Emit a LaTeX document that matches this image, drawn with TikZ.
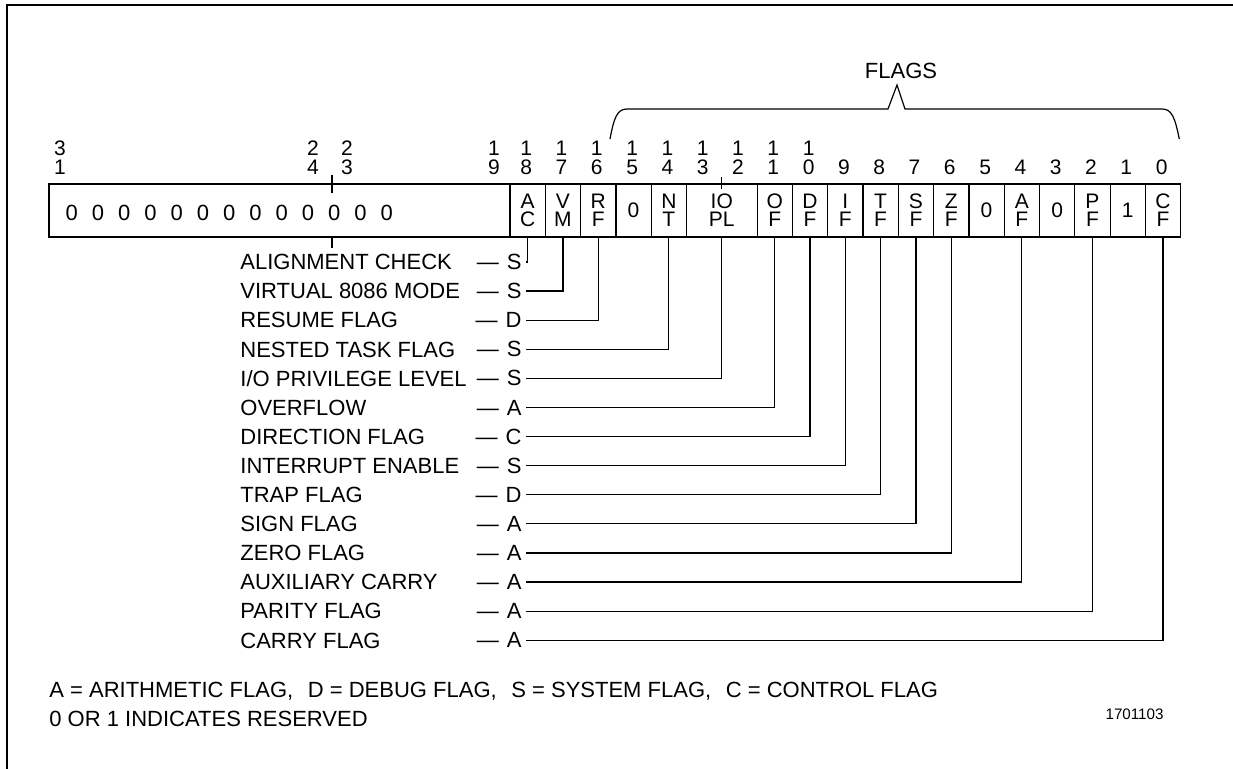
\documentclass[tikz,border=0pt]{standalone}
\usepackage{fontspec}
\setmainfont{Liberation Sans}
\usetikzlibrary{positioning}

\newcommand\lblfont{\fontsize{11}{13}\selectfont}
\newcommand\numfont{\fontsize{10.5}{12}\selectfont}
\newcommand\cellfont{\fontsize{10.5}{9}\selectfont}

\begin{document}
\begin{tikzpicture}[
    x=0.5pt, y=-0.5pt,
    cell/.style={draw, line width=0.6pt, minimum width=17.65pt, minimum height=26.5pt, inner sep=0pt, outer sep=0pt, align=center, font=\cellfont},
    digit/.style={inner sep=0pt, font=\lblfont},
    bitno/.style={anchor=base, inner sep=0pt, font=\numfont},
    flagname/.style={anchor=base west, inner sep=0pt, font=\lblfont},
    kind/.style={anchor=east, inner xsep=2pt, inner ysep=0pt, font=\lblfont},
    conn/.style={line width=0.6pt}
]
\useasboundingbox (0,0) rectangle (1233,769);

% frame
\draw[line width=1.4pt] (7,769) -- (7,5) -- (1233,5);

% register
\node (res) [cell, anchor=north west, minimum width=230.5pt] at (49,184) {};
\node (ac) [cell, right=0pt of res] {A\\C};
\node (vm) [cell, right=0pt of ac] {V\\M};
\node (rf) [cell, right=0pt of vm] {R\\F};
\node (r15) [cell, right=0pt of rf] {0};
\node (nt) [cell, right=0pt of r15] {N\\T};
\node (iopl) [cell, right=0pt of nt, minimum width=35.3pt] {IO\\PL};
\node (of) [cell, right=0pt of iopl] {O\\F};
\node (df) [cell, right=0pt of of] {D\\F};
\node (if) [cell, right=0pt of df] {I\\F};
\node (tf) [cell, right=0pt of if] {T\\F};
\node (sf) [cell, right=0pt of tf] {S\\F};
\node (zf) [cell, right=0pt of sf] {Z\\F};
\node (r5) [cell, right=0pt of zf] {0};
\node (af) [cell, right=0pt of r5] {A\\F};
\node (r3) [cell, right=0pt of af] {0};
\node (pf) [cell, right=0pt of r3] {P\\F};
\node (r1) [cell, right=0pt of pf] {1};
\node (cf) [cell, right=0pt of r1] {C\\F};

% reserved zeros and ticks
\foreach \i in {0,...,12}
  \node (z\i) [digit] at (71.7+26.25*\i,212.5) {0};
\draw[conn] (332,175) -- (332,193);
\draw[conn] (332,237) -- (332,248);
\draw[conn] ([yshift=3.5pt]iopl.north) -- ([yshift=-2.5pt]iopl.north);

% bit numbers
\foreach \x/\hi/\lo in {60/3/1, 313/2/4, 347/2/3, 494/1/9, 526.2/1/8, 561.5/1/7, 596.8/1/6,
    632.1/1/5, 667.4/1/4, 702.7/1/3, 738/1/2, 773.3/1/1, 808.6/1/0} {
  \node (hi\hi\lo) [bitno] at (\x,156) {\hi};
  \node (lo\hi\lo) [bitno] at (\x,175) {\lo};
}
\foreach \x/\d in {843.9/9, 879.2/8, 914.5/7, 949.8/6, 985.1/5, 1020.4/4, 1055.7/3, 1091/2, 1126.3/1, 1161.6/0}
  \node (bit\d) [bitno] at (\x,175) {\d};

% flags brace
\coordinate (bl) at (610,139);
\coordinate (br) at (1179.3,139);
\draw[conn] (bl) .. controls (614,118) and (617,109) .. (627,109) -- (888,109) -- (897,85) -- (905,109)
  -- (1162,109) .. controls (1172,109) and (1175,118) .. (br);
\node (flags) [bitno, font=\lblfont] at (901,78.3) {FLAGS};

% flag names
\foreach \name/\k/\cell [count=\i from 0] in {
    ALIGNMENT CHECK/S/ac,
    VIRTUAL 8086 MODE/S/vm,
    RESUME FLAG/D/rf,
    NESTED TASK FLAG/S/nt,
    {I/O PRIVILEGE LEVEL}/S/iopl,
    OVERFLOW/A/of,
    DIRECTION FLAG/C/df,
    INTERRUPT ENABLE/S/if,
    TRAP FLAG/D/tf,
    SIGN FLAG/A/sf,
    ZERO FLAG/A/zf,
    AUXILIARY CARRY/A/af,
    PARITY FLAG/A/pf,
    CARRY FLAG/A/cf} {
  \node (n\i) [flagname] at (240,269.8+29.1*\i) {\name};
  \node (k\i) [kind] at (526,262+29.1*\i) {\textemdash\hspace{4pt}\k};
  \draw[conn] (k\i.east) -| (\cell.south);
}

% legend
\node (legend) [flagname] at (49,698) {A = ARITHMETIC FLAG,\hspace{7.3pt}D = DEBUG FLAG,\hspace{7.3pt}S = SYSTEM FLAG,\hspace{7.3pt}C = CONTROL FLAG};
\node (note) [flagname] at (49,727) {0 OR 1 INDICATES RESERVED};
\node (figno) [anchor=base east, inner sep=0pt, font=\fontsize{7.6}{9}\selectfont] at (1164,719.5) {1701103};
\end{tikzpicture}
\end{document}
